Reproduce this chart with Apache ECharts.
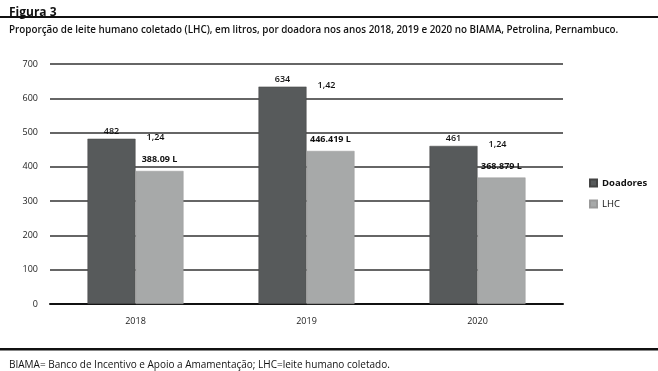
<!DOCTYPE html>
<html><head><meta charset="utf-8">
<script src="https://cdn.jsdelivr.net/npm/echarts@6/dist/echarts.min.js"></script>
<style>html,body{margin:0;padding:0;background:#fff}#c{width:658px;height:371px}</style>
</head><body><div id="c"></div>
<script>
const categories = ['2018', '2019', '2020'];
const doadores = [482, 634, 461];
const lhc = [388.09, 446.419, 368.879];
const lhcLabels = ['388.09 L', '446.419 L', '368.879 L'];
const ratios = ['1,24', '1,42', '1,24'];
const yTicks = [0, 100, 200, 300, 400, 500, 600, 700];

const FONT = '"Open Sans", "Noto Sans", sans-serif';
const chart = echarts.init(document.getElementById('c'), null, {renderer: 'canvas'});
chart.setOption({
  animation: false,
  textStyle: {fontFamily: FONT},
  title: [
    {text: 'Figura 3', left: 4, top: 2, textStyle: {fontSize: 12, fontWeight: 'bold', color: '#111', fontFamily: FONT}},
    {text: 'Proporção de leite humano coletado (LHC), em litros, por doadora nos anos 2018, 2019 e 2020 no BIAMA, Petrolina, Pernambuco.',
     left: 4, top: 20, textStyle: {fontSize: 9.85, fontWeight: 600, color: '#111', fontFamily: FONT}},
    {text: 'BIAMA= Banco de Incentivo e Apoio a Amamentação; LHC=leite humano coletado.',
     left: 4, top: 355, textStyle: {fontSize: 10, fontWeight: 'normal', color: '#111', fontFamily: FONT}}
  ],
  graphic: [
    {type: 'rect', shape: {x: 0, y: 16, width: 658, height: 2}, style: {fill: '#111'}},
    {type: 'rect', shape: {x: 0, y: 348, width: 658, height: 2.5}, style: {fill: '#111'}}
  ],
  legend: {
    orient: 'vertical', left: 584, top: 173, itemGap: 11,
    itemWidth: 7, itemHeight: 7, icon: 'rect',
    textStyle: {fontSize: 9.5, color: '#111', fontWeight: 'bold', fontFamily: FONT},
    data: [{name: 'Doadores'}, {name: 'LHC', textStyle: {fontWeight: 'normal'}}]
  },
  grid: {left: 50, right: 95, top: 64, bottom: 67},
  xAxis: [
    {type: 'category', data: categories,
     axisLine: {show: true, lineStyle: {color: '#111', width: 2}},
     axisTick: {show: false},
     axisLabel: {fontSize: 9, color: '#222', margin: 13}},
    {type: 'category', data: categories, show: false}
  ],
  yAxis: {
    type: 'value', min: 0, max: 700, interval: 100,
    axisLine: {show: false}, axisTick: {show: false},
    axisLabel: {fontSize: 9, color: '#222', margin: 12,
      formatter: v => yTicks.includes(v) ? String(v) : ''},
    splitLine: {lineStyle: {color: '#333', width: 1.5}}
  },
  series: [
    {name: 'Doadores', type: 'bar', data: doadores, barWidth: 48, barGap: '0%',
     itemStyle: {color: '#575a5b', borderColor: '#444', borderWidth: 0.5},
     label: {show: true, position: 'top', distance: 3, fontSize: 9, color: '#111', fontWeight: 600}},
    {name: 'LHC', type: 'bar', data: lhc, barWidth: 48,
     itemStyle: {color: '#a7a9a9', borderColor: '#999', borderWidth: 0.5},
     label: {show: true, position: 'top', distance: 7, fontSize: 9, color: '#111', fontWeight: 'bold',
       formatter: p => lhcLabels[p.dataIndex]}},
    {name: 'ratio', type: 'bar', xAxisIndex: 1, data: doadores, barWidth: 2,
     itemStyle: {color: 'rgba(0,0,0,0)'}, silent: true, z: 0,
     label: {show: true, position: 'top', distance: -3, offset: [20, 0], fontSize: 9, color: '#111', fontWeight: 600,
       formatter: p => ratios[p.dataIndex]}}
  ]
});
</script></body></html>
